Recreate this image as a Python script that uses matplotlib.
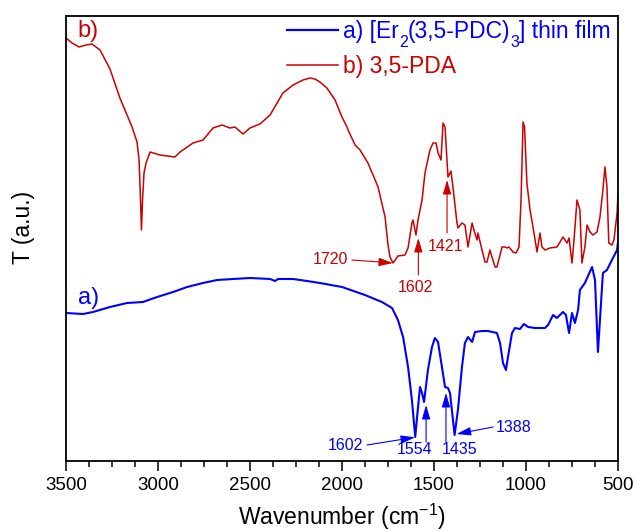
import matplotlib
matplotlib.use("Agg")
import matplotlib.pyplot as plt
from matplotlib.ticker import MultipleLocator

plt.rcParams['font.family'] = ['Liberation Sans', 'DejaVu Sans']
plt.rcParams['mathtext.fontset'] = 'custom'
plt.rcParams['mathtext.rm'] = 'Liberation Sans'
plt.rcParams['mathtext.it'] = 'Liberation Sans:italic'
plt.rcParams['mathtext.default'] = 'regular'

# ---- data (wavenumber cm-1, transmittance a.u.) ----
pda_wn = [3500, 3467, 3429, 3391, 3359, 3315, 3261, 3207, 3141, 3114, 3103, 3095, 3090, 3084,
          3076, 3065, 3043, 2989, 2908, 2880, 2810, 2755, 2701, 2652, 2609, 2582, 2538, 2500,
          2446, 2391, 2321, 2266, 2212, 2174, 2147, 2120, 2082, 2038, 2000, 1973, 1962, 1929,
          1902, 1859, 1804, 1766, 1750, 1739, 1723, 1707, 1696, 1658, 1641, 1620, 1614, 1598,
          1587, 1565, 1549, 1522, 1505, 1489, 1478, 1462, 1451, 1440, 1424, 1408, 1397, 1375,
          1370, 1348, 1332, 1315, 1293, 1283, 1266, 1261, 1239, 1223, 1212, 1196, 1185, 1168,
          1158, 1130, 1114, 1103, 1092, 1071, 1054, 1038, 1027, 1016, 1008, 995, 978, 962,
          940, 924, 913, 897, 870, 832, 815, 799, 777, 766, 750, 739, 723, 707, 696, 680,
          668, 652, 636, 614, 598, 582, 571, 560, 550, 533, 522, 505, 500]
pda_t = [422, 417, 413, 415, 416, 410, 391, 362, 333, 318, 300, 260, 230, 260,
         287, 297, 308, 305, 303, 308, 317, 320, 332, 335, 332, 333, 326, 332,
         336, 345, 367, 375, 380, 382, 381, 378, 372, 360, 343, 333, 328, 315,
         310, 297, 273, 243, 215, 203, 197, 201, 204, 205, 212, 237, 240, 225,
         240, 260, 287, 310, 317, 317, 307, 300, 337, 333, 283, 289, 273, 237,
         232, 237, 235, 213, 237, 230, 220, 227, 210, 198, 198, 210, 203, 193,
         193, 213, 213, 212, 213, 208, 207, 213, 260, 338, 333, 277, 250, 233,
         208, 227, 213, 210, 212, 213, 218, 223, 217, 222, 197, 220, 260, 250, 197, 213,
         235, 228, 225, 228, 243, 270, 293, 273, 217, 215, 220, 247, 267]

film_wn = [3500, 3408, 3353, 3261, 3168, 3082, 3005, 2918, 2842, 2755, 2679, 2592, 2500, 2391,
           2364, 2348, 2266, 2190, 2120, 2000, 1875, 1783, 1728, 1696, 1668, 1641, 1620, 1602,
           1592, 1576, 1565, 1554, 1533, 1511, 1495, 1478, 1457, 1440, 1424, 1413, 1388, 1370,
           1348, 1332, 1315, 1293, 1277, 1239, 1207, 1158, 1141, 1125, 1109, 1098, 1076, 1060,
           1033, 1011, 989, 951, 897, 880, 853, 832, 799, 783, 766, 750, 734, 717, 707, 680,
           641, 625, 609, 598, 582, 560, 533, 505, 500]
film_t = [147, 146, 148, 153, 157, 158, 163, 168, 173, 177, 180, 181, 182, 181,
          179, 181, 181, 179, 177, 173, 165, 158, 152, 140, 123, 93, 60, 23,
          43, 73, 67, 58, 90, 113, 122, 118, 93, 73, 72, 67, 25, 50,
          93, 117, 123, 118, 128, 129, 129, 127, 117, 97, 90, 103, 127, 132,
          131, 136, 133, 132, 132, 135, 145, 142, 148, 145, 127, 147, 137, 150, 170, 177,
          193, 180, 108, 140, 187, 190, 200, 210, 218]

# legend label pieces: (text, is_subscript)
legend_film = [('a) [Er', False), ('2', True), ('(3,5-PDC)', False), ('3', True),
               ('] thin film', False)]
legend_pda = [('b) 3,5-PDA', False)]
curve_labels = ['a)', 'b)']

# peak annotations: (label, text x, text y, arrow tail x, tail y, head x, head y)
pda_peaks = [('1720', 2062, 200, 1946, 200, 1723, 197),
             ('1602', 1600, 172, 1585, 185, 1585, 222),
             ('1421', 1435, 213.5, 1429, 227, 1429, 280)]
film_peaks = [('1602', 1984, 14, 1864, 15, 1603, 22.7),
              ('1554', 1606, 10, 1543, 18, 1543, 55),
              ('1435', 1359, 10, 1435, 18, 1435, 67),
              ('1388', 1065, 32, 1179, 33, 1377, 26)]

BLUE = '#0000FF'
RED = '#CC0000'

fig = plt.figure(figsize=(6.35, 5.31), dpi=100)
ax = fig.add_axes([66 / 635, 1 - 460.5 / 531, 552 / 635, 445 / 531])

ax.plot(film_wn, film_t, color=BLUE, lw=1.5)
ax.plot(pda_wn, pda_t, color=RED, lw=1.1)

ax.set_xlim(3500, 500)
ax.set_ylim(-0.5, 444.5)
ax.xaxis.set_major_locator(MultipleLocator(500))
ax.xaxis.set_minor_locator(MultipleLocator(125))
ax.set_yticks([])
ax.tick_params(axis='x', which='major', direction='out', length=7, width=1.1,
               labelsize=13.5, pad=5)
ax.tick_params(axis='x', which='minor', direction='out', length=4, width=1.1)
for s in ax.spines.values():
    s.set_linewidth(1.3)

ax.set_xlabel(r'Wavenumber (cm$^{-1}$)', fontsize=16.5, va='baseline')
ax.xaxis.set_label_coords(0.5, -0.145)
ax.set_ylabel('T (a.u.)', fontsize=16.5, va='center')
ax.yaxis.set_label_coords(-0.0765, 0.523)

ax.text(3380, 429, curve_labels[1], color=RED, fontsize=17, ha='center', va='center')
ax.text(3380, 162, curve_labels[0], color=BLUE, fontsize=17, ha='center', va='center')


def annotate(peaks, color):
    for lab, tx, ty, ax0, ay0, hx, hy in peaks:
        ax.text(tx, ty, lab, color=color, fontsize=11.5, ha='center', va='center')
        ax.annotate('', xy=(hx, hy), xytext=(ax0, ay0),
                    arrowprops=dict(arrowstyle='-|>,head_length=0.75,head_width=0.22',
                                    color=color, lw=0.8, shrinkA=0, shrinkB=0),
                    fontsize=11.5)


annotate(pda_peaks, RED)
annotate(film_peaks, BLUE)

# ---- legend drawn by hand (lines + chained text pieces) ----
FS = 16.5
SFS = 11.5
DESC = 0.212 * FS      # descent of main text, points
DROP = 6.0             # subscript baseline drop, points


def legend_row(pieces, y_line, y_base, color, lw):
    ax.plot([0.4004, 0.4928], [y_line, y_line], color=color, lw=lw,
            transform=ax.transAxes, clip_on=False)
    main = ax.text(0.5018, y_base, pieces[0][0], transform=ax.transAxes, fontsize=FS,
                   color=color, ha='left', va='baseline')
    prev = main
    for s, sub in pieces[1:]:
        if sub:
            t = ax.annotate(s, xy=(1, 0), xycoords=(prev, main),
                            xytext=(0, DESC - DROP), textcoords='offset points',
                            fontsize=SFS, color=color, ha='left', va='baseline')
        else:
            t = ax.annotate(s, xy=(1, 0), xycoords=(prev, main),
                            xytext=(0, DESC), textcoords='offset points',
                            fontsize=FS, color=color, ha='left', va='baseline')
        prev = t


legend_row(legend_film, 0.9674, 0.9488, BLUE, 1.6)
legend_row(legend_pda, 0.8888, 0.8701, RED, 1.1)

fig.savefig('out.png', dpi=100)
